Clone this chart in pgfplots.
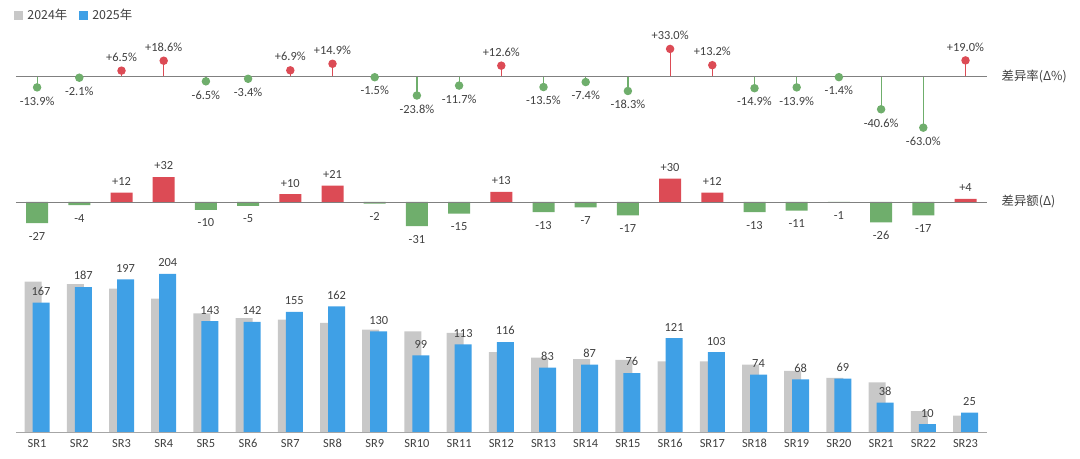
\documentclass[border=0pt]{standalone}
\usepackage{pgfplots}
\pgfplotsset{compat=1.18}
\usepackage{fontspec}
\setmainfont{Carlito}
\newfontfamily\cjk{Noto Sans CJK SC}
\definecolor{cg}{HTML}{C8C8C8}
\definecolor{cb}{HTML}{3FA0E6}
\definecolor{gr}{HTML}{6FAE6C}
\definecolor{rd}{HTML}{DC4B55}
\definecolor{tx}{HTML}{404040}
\newcommand{\fs}{\fontsize{6.2}{7}\selectfont}
\pgfplotsset{common/.style={scale only axis, width=485.3pt, xmin=-0.5, xmax=22.5, clip=false,
  anchor=south west, /pgf/number format/assume math mode=true, every node near coord/.style={font=\fs, text=tx}}}
\begin{document}
\begin{tikzpicture}
\useasboundingbox (0,0) rectangle (540pt,229.5pt);
% bottom panel
\begin{axis}[common, at={(8pt,13.5pt)}, height=89.1pt, ymin=0, ymax=230,
  axis x line=bottom, axis line style={draw=gray!70, -}, hide y axis,
  xtick={0,...,22}, xticklabels={SR1,SR2,SR3,SR4,SR5,SR6,SR7,SR8,SR9,SR10,SR11,SR12,SR13,SR14,SR15,SR16,SR17,SR18,SR19,SR20,SR21,SR22,SR23},
  ticklabel style={font=\fs, text=tx}, major tick length=0pt,
  ybar, bar width=8.5pt]
\addplot[fill=cg, draw=none, bar shift=-2pt] coordinates {(0,194)(1,191)(2,185)(3,172)(4,153)(5,147)(6,145)(7,141)(8,132)(9,130)(10,128)(11,103)(12,96)(13,94)(14,93)(15,91)(16,91)(17,87)(18,79)(19,70)(20,64)(21,27)(22,21)};
\addplot[fill=cb, draw=none, bar shift=2pt, nodes near coords] coordinates {(0,167)(1,187)(2,197)(3,204)(4,143)(5,142)(6,155)(7,162)(8,130)(9,99)(10,113)(11,116)(12,83)(13,87)(14,76)(15,121)(16,103)(17,74)(18,68)(19,69)(20,38)(21,10)(22,25)};
\end{axis}
% middle panel
\begin{axis}[common, at={(8pt,112.9pt)}, height=31.2pt, ymin=-40, ymax=40, hide axis,
  ybar, bar width=11pt, bar shift=0pt, nodes near coords, /pgf/number format/showpos]
\addplot[fill=rd, draw=none, every node near coord/.append style={anchor=south}] coordinates {(2,12)(3,32)(6,10)(7,21)(11,13)(15,30)(16,12)(22,4)};
\addplot[fill=gr, draw=none, every node near coord/.append style={anchor=north, yshift=-1pt}] coordinates {(0,-27)(1,-4)(4,-10)(5,-5)(8,-2)(9,-31)(10,-15)(12,-13)(13,-7)(14,-17)(17,-13)(18,-11)(19,-1)(20,-26)(21,-17)};
\draw[gray] (axis cs:-0.5,0) -- (axis cs:22.5,0);
\node[anchor=west, font=\fs\cjk, text=tx] at (axis cs:22.5,0) {\hspace{4pt}差异额(Δ)};
\end{axis}
% top panel
\begin{axis}[common, at={(8pt,162.8pt)}, height=45.1pt, ymin=-70, ymax=40, hide axis,
  nodes near coords={\pgfmathprintnumber{\pgfplotspointmeta}\%},
  /pgf/number format/.cd, showpos, fixed, fixed zerofill, precision=1, /pgfplots/.cd,
  legend style={at={(0,1)}, anchor=south west, yshift=6pt, xshift=-4pt, draw=none, fill=none, legend columns=2,
    font=\fs\cjk, text=tx, /tikz/every even column/.style={column sep=4pt}},
  legend image code/.code={\fill[#1] (0pt,-2pt) rectangle (4.5pt,2.5pt);}]
\addlegendimage{fill=cg, draw=none}\addlegendentry{2024年}
\addlegendimage{fill=cb, draw=none}\addlegendentry{2025年}
\addplot[ycomb, rd, line width=0.6pt, mark=*, mark size=1.8pt, every node near coord/.append style={anchor=south, yshift=1pt}] coordinates {(2,6.5)(3,18.6)(6,6.9)(7,14.9)(11,12.6)(15,33.0)(16,13.2)(22,19.0)};
\addplot[ycomb, gr, line width=0.6pt, mark=*, mark size=1.8pt, every node near coord/.append style={anchor=north, yshift=-1pt}] coordinates {(0,-13.9)(1,-2.1)(4,-6.5)(5,-3.4)(8,-1.5)(9,-23.8)(10,-11.7)(12,-13.5)(13,-7.4)(14,-18.3)(17,-14.9)(18,-13.9)(19,-1.4)(20,-40.6)(21,-63.0)};
\draw[gray] (axis cs:-0.5,0) -- (axis cs:22.5,0);
\node[anchor=west, font=\fs\cjk, text=tx] at (axis cs:22.5,0) {\hspace{4pt}差异率(Δ\%)};
\end{axis}
\end{tikzpicture}
\end{document}
